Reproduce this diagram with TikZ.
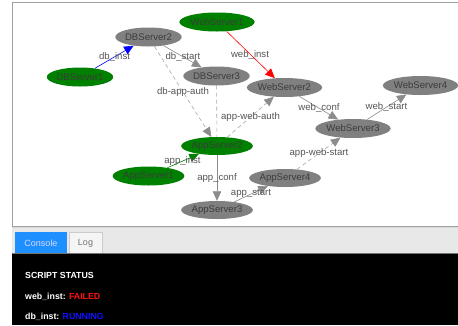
\documentclass[tikz,border=0pt]{standalone}
\usepackage{fontspec}
\setmainfont{Liberation Sans}
\usetikzlibrary{shapes.geometric,arrows.meta}
\definecolor{vgreen}{HTML}{008000}
\definecolor{vgray}{HTML}{808080}
\definecolor{edgegray}{HTML}{8C8C8C}
\definecolor{dashgray}{HTML}{A8A8A8}
\definecolor{labgray}{HTML}{555555}
\definecolor{nodetext}{HTML}{3C3C3C}
\definecolor{tabblue}{HTML}{1E8FFF}
\definecolor{stripgray}{HTML}{E8E8E8}
\definecolor{panelborder}{HTML}{A0A0A0}
\definecolor{runblue}{HTML}{1010FF}
\definecolor{failred}{HTML}{FF1010}
\begin{document}
\begin{tikzpicture}[x=1pt,y=-1pt,
  srv/.style={ellipse, inner sep=0pt, minimum height=19pt, font=\fontsize{9.6}{10}\selectfont, text=nodetext},
  grn/.style={srv, fill=vgreen},
  gry/.style={srv, fill=vgray},
  elab/.style={font=\fontsize{9.6}{10}\selectfont, text=labgray, inner sep=0pt},
  tipg/.style={-{Triangle[length=9.5pt,width=8.5pt]}},
  sedge/.style={draw=edgegray, line width=0.6pt, tipg},
  dedge/.style={draw=dashgray, line width=0.6pt, dash pattern=on 4pt off 3pt, -{Triangle[length=9.5pt,width=8.5pt,color=edgegray,fill=edgegray]}},
  cons/.style={font=\fontsize{8.8}{10}\selectfont\bfseries, inner sep=0pt, anchor=west},
]
\useasboundingbox (0,0) rectangle (458,325);
\fill[white] (0,0) rectangle (458,325);
% graph panel
\draw[panelborder, line width=0.8pt] (458,2) -- (12,2) -- (12,226) -- (458,226);
% tab strip
\fill[stripgray] (12,228) rectangle (458,253);
\draw[white!85!black, line width=0.6pt] (12,227.5) -- (458,227.5);
\fill[tabblue] (15,232) rectangle (67,253);
\node[font=\fontsize{9}{10}\selectfont, text=white!85!blue, inner sep=0pt] (tabconsole) at (41,243) {Console};
\draw[fill=white!96!black, draw=white!80!black, line width=0.5pt] (69,253) -- (69,232.5) -- (102,232.5) -- (102,253);
\node[font=\fontsize{9}{10}\selectfont, text=black!55, inner sep=0pt] (tablog) at (85.5,243) {Log};
% console
\fill[black] (12,253) rectangle (458,325);
\draw[black!55, line width=0.6pt] (12,253) -- (458,253);
\node[cons, text=white] (status) at (25,275.5) {SCRIPT STATUS};
\node[cons, text=white] (webinst) at (25,297) {web\_inst: \textcolor{failred}{FAILED}};
\node[cons, text=white] (dbinst) at (25,317) {db\_inst: \textcolor{runblue}{RUNNING}};
% nodes
\node[gry] (db2) at (148.5,37) {DBServer2};
\node[grn] (db1) at (80,77) {DBServer1};
\node[grn] (web1) at (217,22) {WebServer1};
\node[gry] (db3) at (216.5,76) {DBServer3};
\node[gry] (web2) at (284.5,87.5) {WebServer2};
\node[gry] (web4) at (420.5,85.5) {WebServer4};
\node[gry] (web3) at (353,128.5) {WebServer3};
\node[grn, minimum height=18pt] (app2) at (217,146) {AppServer2};
\node[grn] (app1) at (148.5,176) {AppServer1};
\node[gry, minimum height=18pt] (app4) at (285,178) {AppServer4};
\node[gry, minimum height=18pt] (app3) at (217,210) {AppServer3};
% edges
\draw[draw=blue, line width=0.6pt, -{Triangle[length=9.5pt,width=8.5pt]}, blue] (db1) -- (db2);
\draw[sedge] (db2) -- (db3);
\draw[draw=red, line width=0.6pt, -{Triangle[length=9.5pt,width=8.5pt]}, red] (web1) -- (web2);
\draw[dedge] (db2) -- (app2);
\draw[draw=dashgray, line width=0.6pt, dash pattern=on 4pt off 3pt] (db3) -- (app2);
\draw[dedge] (app2) -- (web2);
\draw[sedge] (web2) -- (web3);
\draw[sedge] (web3) -- (web4);
\draw[dedge] (app4) -- (web3);
\draw[draw=vgreen!80!white, line width=0.6pt, -{Triangle[length=9.5pt,width=8.5pt]}, vgreen] (app1) -- (app2);
\draw[sedge] (app2) -- (app3);
\draw[sedge] (app3) -- (app4);
% edge labels
\node[elab] (l-dbinst) at (114.5,57) {db\_inst};
\node[elab] (l-dbstart) at (183,57) {db\_start};
\node[elab] (l-webinst) at (250,55) {web\_inst};
\node[elab] (l-dbappauth) at (183,92) {db-app-auth};
\node[elab] (l-appwebauth) at (250.5,117) {app-web-auth};
\node[elab] (l-webconf) at (319,108) {web\_conf};
\node[elab] (l-webstart) at (386.5,107) {web\_start};
\node[elab] (l-appwebstart) at (319,153) {app-web-start};
\node[elab] (l-appinst) at (182.5,161) {app\_inst};
\node[elab] (l-appconf) at (217,178) {app\_conf};
\node[elab] (l-appstart) at (251,193) {app\_start};
\end{tikzpicture}
\end{document}
